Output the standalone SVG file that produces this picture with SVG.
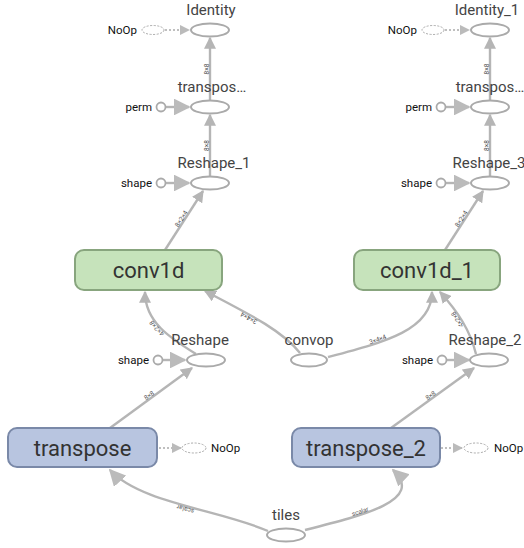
<svg xmlns="http://www.w3.org/2000/svg" width="524" height="548" viewBox="0 0 524 548">
<defs>
<style>
.op{fill:#fff;stroke:#aaa;stroke-width:2}
.ctl{fill:#fff;stroke:#aaa;stroke-width:1;stroke-dasharray:2,1.5}
.cst{fill:#fff;stroke:#aaa;stroke-width:1.8}
.e{fill:none;stroke:#b5b5b5;stroke-width:2.4}
.ec{fill:none;stroke:#aaa;stroke-width:1.5;stroke-dasharray:2,2}
.lbl{font-family:Roboto,"Liberation Sans",sans-serif;font-size:15px;fill:#444;text-anchor:middle}
.sm{font-family:Roboto,"Liberation Sans",sans-serif;font-size:11.5px;fill:#111}
.el{font-family:Roboto,"Liberation Sans",sans-serif;font-size:6.5px;fill:#555;text-anchor:middle}
.big{font-family:Roboto,"Liberation Sans",sans-serif;font-size:22px;fill:#333;text-anchor:middle}
.green{fill:#c6e3bb;stroke:#88a57e;stroke-width:2}
.blue{fill:#b8c5e0;stroke:#7a89a8;stroke-width:2}
</style>
<marker id="ah" viewBox="0 0 10 10" refX="9" refY="5" markerWidth="5" markerHeight="5" orient="auto" markerUnits="strokeWidth"><path d="M0,0 L10,5 L0,10 z" fill="#b5b5b5"/></marker>
<marker id="ahc" viewBox="0 0 10 10" refX="9" refY="5" markerWidth="7" markerHeight="7" orient="auto" markerUnits="strokeWidth"><path d="M0,0 L10,5 L0,10 z" fill="#bbb"/></marker>
<path id="p1" d="M210,100 L210,38"/>
<path id="p2" d="M210,176 L210,115"/>
<path id="p3" d="M165,250 L203,191"/>
<path id="p4" d="M196,354 C170,338 145,322 145,292"/>
<path id="p5" d="M300,353 C282,330 245,312 205,291"/>
<path id="p6" d="M328,357 C385,342 432,330 432,292"/>
<path id="p7" d="M476,354 C470,330 458,312 440,292"/>
<path id="p8" d="M110,428 L192,368"/>
<path id="p9" d="M391,428 L474,368"/>
<path id="p10" d="M268,531 C220,510 140,503 110,470"/>
<path id="p11" d="M305,530 C365,515 425,500 393,470"/>
<path id="q1" d="M490,100 L490,38"/>
<path id="q2" d="M490,176 L490,115"/>
<path id="q3" d="M445,250 L483,191"/>
</defs>
<rect width="524" height="548" fill="#fff"/>
<g id="connectors">
<use href="#p1" class="e" marker-end="url(#ah)"/>
<use href="#p2" class="e" marker-end="url(#ah)"/>
<use href="#p3" class="e" marker-end="url(#ah)"/>
<use href="#p4" class="e" marker-end="url(#ah)"/>
<use href="#p5" class="e" marker-end="url(#ah)"/>
<use href="#p6" class="e" marker-end="url(#ah)"/>
<use href="#p7" class="e" marker-end="url(#ah)"/>
<use href="#p8" class="e" marker-end="url(#ah)"/>
<use href="#p9" class="e" marker-end="url(#ah)"/>
<use href="#p10" class="e" stroke-width="1.6" marker-end="url(#ahc)"/>
<use href="#p11" class="e" stroke-width="1.6" marker-end="url(#ahc)"/>
<use href="#q1" class="e" marker-end="url(#ah)"/>
<use href="#q2" class="e" marker-end="url(#ah)"/>
<use href="#q3" class="e" marker-end="url(#ah)"/>
<path d="M166,107 L189,107" class="e" stroke-width="1.8" marker-end="url(#ahc)"/>
<path d="M166,183 L189,183" class="e" stroke-width="1.8" marker-end="url(#ahc)"/>
<path d="M162,360 L185,360" class="e" stroke-width="1.8" marker-end="url(#ahc)"/>
<path d="M446,107 L469,107" class="e" stroke-width="1.8" marker-end="url(#ahc)"/>
<path d="M446,183 L469,183" class="e" stroke-width="1.8" marker-end="url(#ahc)"/>
<path d="M446,360 L469,360" class="e" stroke-width="1.8" marker-end="url(#ahc)"/>
<path d="M165,30 L189,30" class="ec" marker-end="url(#ahc)"/>
<path d="M445,30 L469,30" class="ec" marker-end="url(#ahc)"/>
<path d="M159,448 L181,448" class="ec" marker-end="url(#ahc)"/>
<path d="M441,448 L462,448" class="ec" marker-end="url(#ahc)"/>
<text class="el" dy="-1"><textPath href="#p1" startOffset="50%">8×8</textPath></text>
<text class="el" dy="-1"><textPath href="#p2" startOffset="50%">8×8</textPath></text>
<text class="el" dy="-1"><textPath href="#p3" startOffset="50%">8×2×4</textPath></text>
<text class="el" dy="-1"><textPath href="#p4" startOffset="55%">4×2×8</textPath></text>
<text class="el" dy="-1"><textPath href="#p5" startOffset="55%">3×4×4</textPath></text>
<text class="el" dy="-1"><textPath href="#p6" startOffset="40%">3×4×4</textPath></text>
<text class="el" dy="-1"><textPath href="#p7" startOffset="55%">4×2×8</textPath></text>
<text class="el" dy="-1"><textPath href="#p8" startOffset="50%">8×8</textPath></text>
<text class="el" dy="-1"><textPath href="#p9" startOffset="50%">8×8</textPath></text>
<text class="el" dy="-1"><textPath href="#p10" startOffset="50%">scalar</textPath></text>
<text class="el" dy="-1"><textPath href="#p11" startOffset="45%">scalar</textPath></text>
<text class="el" dy="-1"><textPath href="#q1" startOffset="50%">8×8</textPath></text>
<text class="el" dy="-1"><textPath href="#q2" startOffset="50%">8×8</textPath></text>
<text class="el" dy="-1"><textPath href="#q3" startOffset="50%">8×2×4</textPath></text>
</g>
<g id="Identity"><ellipse class="op" cx="210" cy="30" rx="19" ry="6.5"/><text class="lbl" x="211" y="15">Identity</text></g>
<g id="NoOp_identity"><ellipse class="ctl" cx="153" cy="30" rx="11" ry="4.5"/><text class="sm" x="137" y="34" text-anchor="end">NoOp</text></g>
<g id="transpose_1"><ellipse class="op" cx="210" cy="107" rx="19" ry="6.5"/><text class="lbl" x="212" y="92">transpos…</text></g>
<g id="perm"><circle class="cst" cx="161" cy="107" r="4.5"/><text class="sm" x="152" y="111" text-anchor="end">perm</text></g>
<g id="Reshape_1"><ellipse class="op" cx="210" cy="183" rx="19" ry="6.5"/><text class="lbl" x="214" y="168">Reshape_1</text></g>
<g id="shape_1"><circle class="cst" cx="161" cy="183" r="4.5"/><text class="sm" x="152" y="187" text-anchor="end">shape</text></g>
<g id="Identity_1"><ellipse class="op" cx="490" cy="30" rx="19" ry="6.5"/><text class="lbl" x="487" y="15">Identity_1</text></g>
<g id="NoOp_identity_1"><ellipse class="ctl" cx="433" cy="30" rx="11" ry="4.5"/><text class="sm" x="417" y="34" text-anchor="end">NoOp</text></g>
<g id="transpose_3"><ellipse class="op" cx="490" cy="107" rx="19" ry="6.5"/><text class="lbl" x="490" y="92">transpos…</text></g>
<g id="perm_1"><circle class="cst" cx="441" cy="107" r="4.5"/><text class="sm" x="432" y="111" text-anchor="end">perm</text></g>
<g id="Reshape_3"><ellipse class="op" cx="490" cy="183" rx="19" ry="6.5"/><text class="lbl" x="489" y="168">Reshape_3</text></g>
<g id="shape_3"><circle class="cst" cx="441" cy="183" r="4.5"/><text class="sm" x="432" y="187" text-anchor="end">shape</text></g>
<g id="conv1d"><rect class="green" x="75" y="250" width="147" height="40" rx="9"/><text class="big" x="148.5" y="278">conv1d</text></g>
<g id="conv1d_1"><rect class="green" x="354" y="250" width="146" height="40" rx="9"/><text class="big" x="427" y="278">conv1d_1</text></g>
<g id="Reshape"><ellipse class="op" cx="206" cy="360" rx="19" ry="6.5"/><text class="lbl" x="200" y="345">Reshape</text></g>
<g id="shape"><circle class="cst" cx="158" cy="360" r="4.5"/><text class="sm" x="149" y="364" text-anchor="end">shape</text></g>
<g id="convop"><ellipse class="op" cx="309" cy="360" rx="18" ry="6.5"/><text class="lbl" x="309" y="345">convop</text></g>
<g id="Reshape_2"><ellipse class="op" cx="489" cy="360" rx="19" ry="6.5"/><text class="lbl" x="485" y="345">Reshape_2</text></g>
<g id="shape_2"><circle class="cst" cx="442" cy="360" r="4.5"/><text class="sm" x="433" y="364" text-anchor="end">shape</text></g>
<g id="transpose"><rect class="blue" x="8" y="428" width="149" height="39" rx="9"/><text class="big" x="82.5" y="456">transpose</text></g>
<g id="NoOp"><ellipse class="ctl" cx="194" cy="448" rx="12" ry="5"/><text class="sm" x="211" y="452">NoOp</text></g>
<g id="transpose_2"><rect class="blue" x="292" y="428" width="148" height="39" rx="9"/><text class="big" x="366" y="456">transpose_2</text></g>
<g id="NoOp_1"><ellipse class="ctl" cx="476" cy="448" rx="12" ry="5"/><text class="sm" x="494" y="452">NoOp</text></g>
<g id="tiles"><ellipse class="op" cx="286" cy="535" rx="19" ry="6.5"/><text class="lbl" x="286" y="520">tiles</text></g>
</svg>
